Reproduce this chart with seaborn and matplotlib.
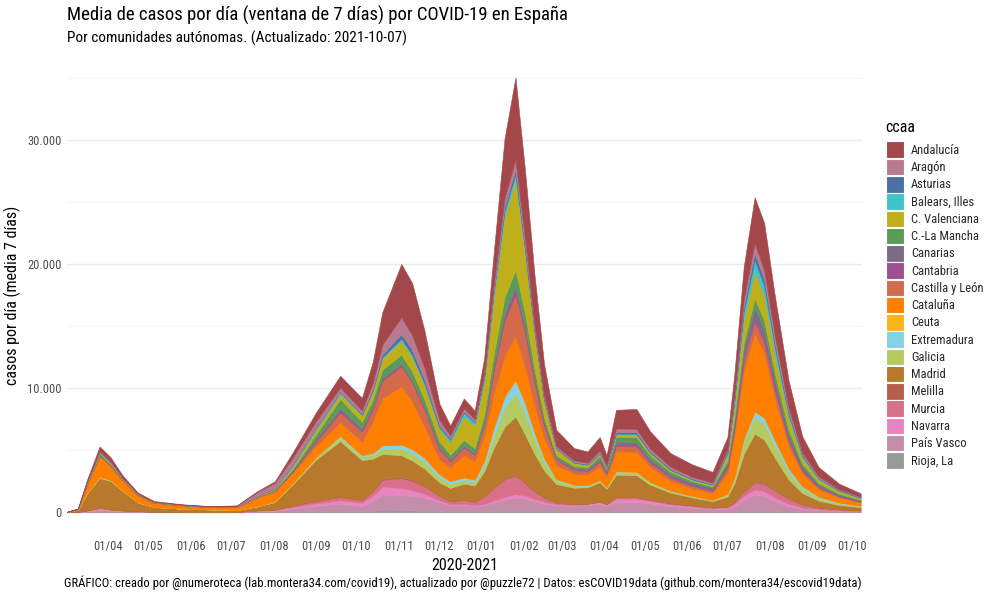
import numpy as np
import pandas as pd
import matplotlib
matplotlib.use("Agg")
import matplotlib.pyplot as plt
import matplotlib.dates as mdates
from matplotlib.ticker import FuncFormatter, MultipleLocator
from matplotlib.patches import Patch
import seaborn as sns

# ---------------- data (7-day mean of daily cases) ----------------
fechas = ["2020-03-01","2020-03-10","2020-03-17","2020-03-26","2020-04-03","2020-04-12","2020-04-23",
          "2020-05-05","2020-05-25","2020-06-15",
          "2020-07-05","2020-07-20","2020-08-02","2020-08-15","2020-09-01","2020-09-19","2020-10-05",
          "2020-10-13","2020-10-20","2020-11-03","2020-11-11","2020-11-20",
          "2020-12-01","2020-12-09","2020-12-19","2020-12-27","2021-01-03","2021-01-10","2021-01-18",
          "2021-01-26","2021-02-02","2021-02-09",
          "2021-02-16","2021-02-25","2021-03-10","2021-03-20","2021-03-29","2021-04-03","2021-04-10",
          "2021-04-25","2021-05-05","2021-05-20",
          "2021-06-05","2021-06-20","2021-07-01","2021-07-06","2021-07-13","2021-07-21","2021-07-28",
          "2021-08-05","2021-08-15","2021-08-25",
          "2021-09-06","2021-09-21","2021-10-07"]

ccaa = ["Andalucía", "Aragón", "Asturias", "Balears, Illes", "C. Valenciana", "C.-La Mancha",
        "Canarias", "Cantabria", "Castilla y León", "Cataluña", "Ceuta", "Extremadura",
        "Galicia", "Madrid", "Melilla", "Murcia", "Navarra", "País Vasco", "Rioja, La"]

andalucia = [0,10,150,350,320,180,100,60,30,20,
             25,70,130,400,700,950,1000,1700,2600,4300,4200,3000,
             1300,800,800,700,1200,2500,4800,6600,5500,4000,
             2500,1300,1000,900,1100,800,1500,1600,1400,1100,
             1000,850,1000,1600,2600,3700,3800,3200,2200,1300,
             750,450,280]
aragon = [0,5,30,60,60,30,15,10,10,25,
          80,300,450,600,550,350,300,500,800,1350,1200,950,
          450,250,250,200,300,500,700,800,650,450,
          300,150,120,120,170,120,280,270,220,180,
          150,120,200,350,600,800,750,550,350,200,
          120,80,50]
asturias = [0,3,25,40,40,20,10,5,3,2,
            2,5,5,10,20,50,60,120,230,350,380,310,
            150,100,100,80,120,200,350,400,300,200,
            120,60,50,50,60,40,130,130,100,70,
            60,50,100,200,400,550,500,350,200,100,
            60,40,30]
balears = [0,2,15,30,25,15,8,5,3,2,
           3,15,30,100,150,130,60,70,90,200,180,150,
           150,200,300,250,350,450,450,400,250,150,
           80,40,30,30,40,30,70,80,60,40,
           30,40,200,400,700,900,800,550,300,150,
           80,50,30]
c_valenciana = [0,10,60,100,90,50,30,15,10,10,
                10,40,80,200,350,400,500,650,900,1100,1150,1150,
                1000,1000,1900,1800,2600,4500,6500,7300,4800,2800,
                1300,500,250,150,150,100,180,190,150,120,
                100,100,400,900,1800,2200,2000,1500,900,450,
                280,180,120]
c_la_mancha = [0,5,50,80,70,40,25,15,15,10,
               8,20,40,120,350,750,550,550,650,700,700,620,
               450,350,450,400,600,1000,1300,1300,1100,700,
               400,200,150,150,250,200,400,400,300,200,
               150,120,200,300,500,700,700,600,400,250,
               150,100,70]
canarias = [0,3,15,30,25,15,8,5,3,2,
            2,10,15,50,150,190,150,120,100,100,100,100,
            100,100,100,80,120,150,250,270,250,200,
            150,100,100,120,160,120,200,200,200,180,
            180,200,300,450,700,900,800,600,400,250,
            150,100,70]
cantabria = [0,2,10,20,20,10,6,3,2,2,
             2,5,10,30,50,130,100,120,150,150,140,120,
             80,60,60,50,80,200,350,400,300,200,
             120,60,50,60,80,60,130,130,100,80,
             60,50,80,150,220,250,230,180,100,60,
             40,25,20]
castilla_leon = [0,5,50,90,80,50,30,20,30,20,
                 15,40,70,150,350,800,800,1000,1400,1600,1500,1350,
                 800,500,600,500,900,1800,2800,3400,2700,1800,
                 1000,450,300,280,350,300,450,450,350,250,
                 200,180,400,600,850,950,900,700,400,250,
                 150,100,70]
cataluna = [0,40,700,1650,1100,800,550,330,250,170,
            220,700,800,800,900,1100,1100,2500,3800,4700,3800,2500,
            1200,1100,1800,1500,2000,2800,3300,3500,2900,2200,
            1600,1100,900,850,1100,800,1600,1600,1200,800,
            600,550,1700,3300,5500,6300,5200,3300,1800,1000,
            600,400,250]
ceuta = [0,0,0,1,1,1,1,0,0,0,
         0,1,1,2,5,20,20,25,30,30,30,20,
         10,10,10,10,15,20,30,30,30,20,
         15,10,5,5,5,5,10,10,10,10,
         5,5,5,10,15,20,20,20,15,10,
         5,5,3]
extremadura = [0,2,10,30,25,15,8,5,3,2,
               2,5,10,20,50,130,120,150,220,270,300,300,
               250,200,200,200,400,700,900,1000,800,500,
               300,100,60,50,50,40,80,80,60,50,
               40,30,60,120,300,450,450,400,300,200,
               120,70,40]
galicia = [0,3,30,60,50,30,15,8,5,5,
           10,30,40,80,150,270,250,300,450,550,600,560,
           400,350,300,250,450,900,1500,1900,1700,1200,
           700,300,180,120,130,100,200,200,150,100,
           80,60,150,350,900,1300,1300,1000,600,350,
           200,120,80]
madrid = [0,170,1400,2400,2300,1550,700,380,260,210,
          150,300,600,1700,3300,4470,3200,2600,2000,1750,1550,1350,
          1050,1050,1300,1300,2000,3200,4200,4700,3900,3000,
          2200,1500,1300,1300,1550,1200,1800,1750,1200,850,
          650,500,800,1500,3000,3900,3500,2600,1500,900,
          550,350,250]
melilla = [0,0,0,1,1,1,0,0,0,0,
           0,1,1,2,5,20,20,40,70,100,100,60,
           30,15,10,10,15,30,50,50,40,30,
           20,10,10,10,10,10,20,20,20,20,
           10,10,10,15,30,50,50,40,30,20,
           10,5,3]
murcia = [0,2,10,20,15,10,5,3,2,2,
          5,30,40,120,200,270,200,350,550,800,750,620,
          350,250,300,300,600,1000,1400,1500,1000,600,
          300,120,60,40,50,40,120,130,100,80,
          60,50,80,150,350,550,600,550,400,250,
          150,80,50]
navarra = [0,10,60,150,80,50,30,15,8,5,
           8,40,60,100,200,270,300,450,650,550,450,320,
           150,100,80,60,100,150,250,270,250,200,
           150,100,80,80,120,100,250,250,200,150,
           100,60,100,200,350,400,400,300,200,100,
           60,40,30]
pais_vasco = [0,25,80,150,100,70,50,20,15,10,
              10,80,100,250,450,600,400,750,1200,1200,1150,1050,
              750,500,550,450,500,700,900,1100,1000,800,
              650,500,500,550,650,500,750,750,650,450,
              350,250,250,400,900,1350,1200,800,450,250,
              150,100,70]
rioja = [0,3,5,40,30,20,10,5,3,2,
         3,10,20,60,70,100,80,130,220,200,170,120,
         80,50,60,50,80,100,100,100,100,80,
         60,40,30,30,40,30,80,80,60,40,
         30,25,30,50,80,100,100,80,50,30,
         20,15,10]

colores = ["#A4474A", "#B77A91", "#4A70A5", "#3EC4C9", "#BFAF1A", "#5A9A5A", "#7E6A87",
           "#A0508E", "#D46A4A", "#FF7F00", "#FCB31A", "#85D2E6", "#B3CB62", "#B8792C",
           "#B55F4C", "#D9708A", "#EA84C0", "#C48DAA", "#9A9A9A"]

series = [andalucia, aragon, asturias, balears, c_valenciana, c_la_mancha, canarias, cantabria,
          castilla_leon, cataluna, ceuta, extremadura, galicia, madrid, melilla, murcia, navarra,
          pais_vasco, rioja]

df = pd.DataFrame({name: vals for name, vals in zip(ccaa, series)})
df.insert(0, "fecha", pd.to_datetime(fechas))
long = df.melt(id_vars="fecha", var_name="ccaa", value_name="casos")

# ---------------- style ----------------
sns.set_theme(style="whitegrid")
plt.rcParams["font.family"] = ["Roboto Condensed", "Roboto", "DejaVu Sans"]
palette = dict(zip(ccaa, sns.color_palette(colores)))

fig = plt.figure(figsize=(10, 6), dpi=100)
ax = fig.add_axes([0.067, 0.11, 0.795, 0.7967])

wide = long.pivot(index="fecha", columns="ccaa", values="casos")[ccaa]
order = list(reversed(ccaa))  # first level drawn on top
ax.stackplot(wide.index, *[wide[c].values for c in order],
             colors=[palette[c] for c in order], edgecolor="face", linewidth=0.4)

ax.set_xlim(pd.Timestamp("2020-03-02"), pd.Timestamp("2021-10-08"))
ax.set_ylim(-1750, 36750)

ax.yaxis.set_major_locator(MultipleLocator(10000))
ax.yaxis.set_minor_locator(MultipleLocator(5000))
ax.yaxis.set_major_formatter(FuncFormatter(lambda v, p: f"{int(v):,}".replace(",", ".")))
ax.xaxis.set_major_locator(mdates.MonthLocator())
ax.xaxis.set_major_formatter(mdates.DateFormatter("%d/%m"))

ax.grid(axis="x", visible=False)
ax.grid(axis="y", which="major", color="#EBEBEB", linewidth=1.0)
ax.grid(axis="y", which="minor", color="#F4F4F4", linewidth=0.6)
ax.set_axisbelow(True)
for s in ax.spines.values():
    s.set_visible(False)
ax.tick_params(axis="both", which="both", length=0, labelsize=9, colors="#4D4D4D", pad=4)
ax.set_facecolor("white")

ax.set_xlabel("2020-2021", fontsize=11.5, color="black", labelpad=4)
ax.set_ylabel("casos por día (media 7 días)", fontsize=11.5, color="black", labelpad=4)

fig.text(0.067, 0.974, "Media de casos por día (ventana de 7 días) por COVID-19 en España",
         fontsize=13.5, ha="left", va="center", color="black")
fig.text(0.067, 0.936, "Por comunidades autónomas. (Actualizado: 2021-10-07)",
         fontsize=11, ha="left", va="center", color="black")
fig.text(0.862, 0.028,
         "GRÁFICO: creado por @numeroteca (lab.montera34.com/covid19), actualizado por @puzzle72 | "
         "Datos: esCOVID19data (github.com/montera34/escovid19data)",
         fontsize=9.05, ha="right", va="center", color="black")

# legend (title drawn as separate text for exact spacing)
fig.text(0.885, 1 - 127 / 600, "ccaa", fontsize=11.5, ha="left", va="center", color="black")
handles = [Patch(facecolor=palette[c], edgecolor="white", linewidth=0.8) for c in ccaa]
leg = fig.legend(handles, ccaa, loc="upper left", bbox_to_anchor=(0.886, 1 - 141.5 / 600),
                 frameon=False, fontsize=9, handlelength=1.45, handleheight=1.67,
                 labelspacing=0.05, handletextpad=0.55, borderaxespad=0, borderpad=0)

fig.savefig("out.png", dpi=100, facecolor="white")
